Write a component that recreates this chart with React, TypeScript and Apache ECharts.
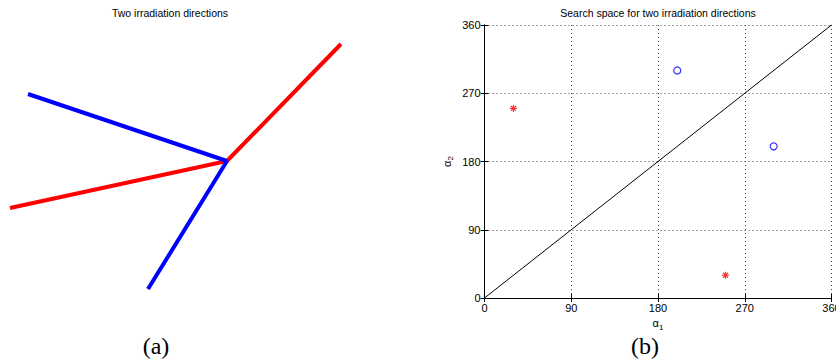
import React, { useEffect, useRef } from "react";
import * as echarts from "echarts";

// Beam directions drawn from a common isocentre (origin), endpoints in panel units
const redBeam: number[][] = [
  [-217, -47],
  [0, 0],
  [114, 117],
];
const blueBeam: number[][] = [
  [-199, 67],
  [0, 0],
  [-79, -128],
];

// Search space: candidate angle pairs (alpha1, alpha2)
const circlePairs: number[][] = [
  [200, 300],
  [300, 200],
];
const starPairs: number[][] = [
  [30, 250],
  [250, 30],
];
const diagonal: number[][] = [
  [0, 0],
  [360, 360],
];
const angleTicks = [0, 90, 180, 270, 360];

const SANS = "'Liberation Sans', Arial, Helvetica, sans-serif";
const SERIF = "'Liberation Serif', 'Times New Roman', serif";

const STAR =
  "path://M0,-1L0,1M-1,0L1,0M-0.71,-0.71L0.71,0.71M-0.71,0.71L0.71,-0.71";

export default function App() {
  const ref = useRef<HTMLDivElement>(null);

  useEffect(() => {
    if (!ref.current) return;
    const chart = echarts.init(ref.current, null, { renderer: "svg" });

    const tickFmt = (v: number) => (angleTicks.includes(v) ? String(v) : "");

    const frameAxis = {
      min: 0,
      max: 360,
      interval: 90,
      type: "value" as const,
      axisLine: { show: true, lineStyle: { color: "#000", width: 1 } },
      axisTick: { show: true, inside: true, length: 4, lineStyle: { color: "#000" } },
      axisLabel: { show: false },
      splitLine: { show: false },
    };

    const caption = (text: string, x: number, y: number, font: string, size: number) => ({
      type: "text",
      x,
      y,
      style: {
        text,
        fill: "#000",
        font: `${size}px ${font}`,
        textAlign: "center",
        textVerticalAlign: "middle",
      },
    });

    chart.setOption({
      animation: false,
      backgroundColor: "#fff",
      graphic: [
        caption("Two irradiation directions", 170, 12.5, SANS, 10.5),
        caption("Search space for two irradiation directions", 658, 12.5, SANS, 10.5),
        caption("(a)", 156, 345.5, SERIF, 24),
        caption("(b)", 645, 345.5, SERIF, 24),
      ],
      grid: [
        { left: 0, top: 0, width: 420, height: 360, outerBoundsMode: "none" },
        { left: 484.5, top: 25, width: 347, height: 273, outerBoundsMode: "none" },
      ],
      xAxis: [
        { gridIndex: 0, type: "value", min: -227, max: 193, show: false },
        {
          gridIndex: 1,
          type: "value",
          min: 0,
          max: 360,
          interval: 90,
          position: "bottom",
          axisLine: { show: true, lineStyle: { color: "#000", width: 1 } },
          axisTick: { show: true, inside: true, length: 4, lineStyle: { color: "#000" } },
          axisLabel: {
            show: true,
            formatter: tickFmt,
            fontFamily: SANS,
            fontSize: 11,
            color: "#000",
            margin: 4,
          },
          splitLine: { show: true, lineStyle: { color: "#444", type: [1, 3], width: 1 } },
          name: "{a|α}{s|1}",
          nameLocation: "middle",
          nameGap: 13,
          nameTextStyle: {
            rich: {
              a: { fontFamily: SANS, fontSize: 11, color: "#000" },
              s: { fontFamily: SANS, fontSize: 8, color: "#000", padding: [8, 0, 0, 0] },
            },
          },
        },
        { gridIndex: 1, position: "top", ...frameAxis },
      ],
      yAxis: [
        { gridIndex: 0, type: "value", min: -199, max: 161, show: false },
        {
          gridIndex: 1,
          type: "value",
          min: 0,
          max: 360,
          interval: 90,
          position: "left",
          axisLine: { show: true, lineStyle: { color: "#000", width: 1 } },
          axisTick: { show: true, inside: true, length: 4, lineStyle: { color: "#000" } },
          axisLabel: {
            show: true,
            formatter: tickFmt,
            fontFamily: SANS,
            fontSize: 11,
            color: "#000",
            margin: 4,
          },
          splitLine: { show: true, lineStyle: { color: "#444", type: [1, 3], width: 1 } },
          name: "{a|α}{s|2}",
          nameLocation: "middle",
          nameGap: 30,
          nameRotate: 90,
          nameTextStyle: {
            rich: {
              a: { fontFamily: SANS, fontSize: 11, color: "#000" },
              s: { fontFamily: SANS, fontSize: 8, color: "#000", padding: [8, 0, 0, 0] },
            },
          },
        },
        { gridIndex: 1, position: "right", ...frameAxis },
      ],
      series: [
        {
          type: "line",
          xAxisIndex: 0,
          yAxisIndex: 0,
          data: redBeam,
          showSymbol: false,
          symbol: "none",
          lineStyle: { color: "#ff0000", width: 4 },
          z: 2,
        },
        {
          type: "line",
          xAxisIndex: 0,
          yAxisIndex: 0,
          data: blueBeam,
          showSymbol: false,
          symbol: "none",
          lineStyle: { color: "#0000ff", width: 4 },
          z: 3,
        },
        {
          type: "line",
          xAxisIndex: 1,
          yAxisIndex: 1,
          data: diagonal,
          showSymbol: false,
          symbol: "none",
          lineStyle: { color: "#000", width: 1 },
        },
        {
          type: "scatter",
          xAxisIndex: 1,
          yAxisIndex: 1,
          data: circlePairs,
          symbol: "circle",
          symbolSize: 7,
          itemStyle: { color: "rgba(0,0,0,0)", borderColor: "#0000ff", borderWidth: 1.2 },
        },
        {
          type: "scatter",
          xAxisIndex: 1,
          yAxisIndex: 1,
          data: starPairs,
          symbol: STAR,
          symbolSize: 7,
          itemStyle: { color: "rgba(0,0,0,0)", borderColor: "#ff0000", borderWidth: 1.2 },
        },
      ],
    });

    return () => chart.dispose();
  }, []);

  return (
    <div
      ref={ref}
      style={{ position: "fixed", left: 0, top: 0, width: 836, height: 360 }}
    />
  );
}
